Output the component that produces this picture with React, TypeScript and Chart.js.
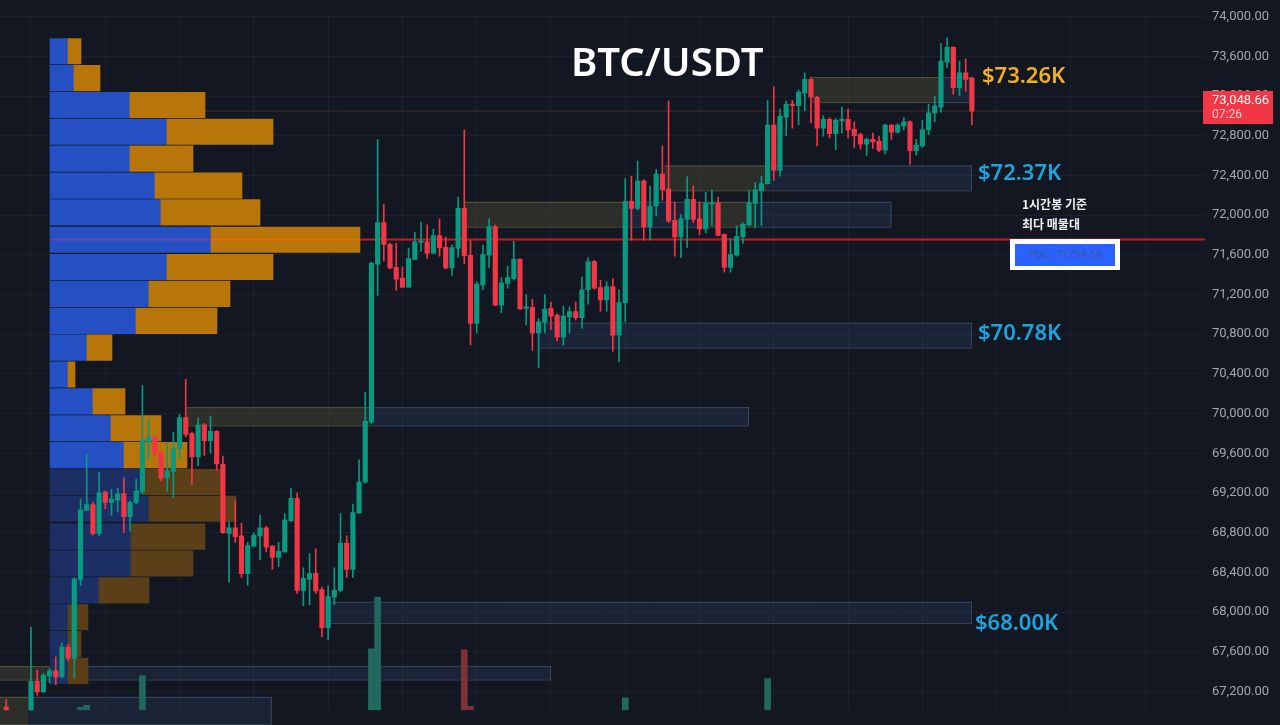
import { useEffect, useRef } from 'react'
import { Chart, registerables } from 'chart.js'

Chart.register(...registerables)

// candles, first one is bar -4 (only that one reaches into view at the left edge)
const firstBar = -4
const opens = [
  67043, 66880, 66880, 66880,
  66900, 67301, 67195, 67356, 67407, 67349, 67646, 67536, 68326, 69025,
  69083, 68790, 69209, 69106, 69128, 69193, 68961, 69106, 69212, 69718,
  69766, 69605, 69354, 69418, 69647, 69959, 69798, 69563, 69888, 69727,
  69821, 69492, 68793, 68848, 68767, 68387, 68664, 68767, 68848, 68664,
  68551, 68606, 68922, 69147, 68219, 68332, 68390, 68226, 67842, 68149,
  68219, 68696, 68429, 68999, 69309, 69917, 71505, 71924, 71705, 71473,
  71367, 71273, 71554, 71725, 71731, 71618, 71795, 71676, 71467, 71667,
  72069, 71596, 70909, 71296, 71596, 71886, 71093, 71312, 71360, 71554,
  71061, 71070, 70813, 70919, 71061, 70990, 70771, 70974, 71029, 70967,
  71248, 71531, 71270, 71145, 71280, 70790, 71119, 72140, 72069, 72343,
  71882, 72092, 72415, 72263, 71948, 71780, 71957, 72160, 71964, 71861,
  72112, 72125, 71803, 71474, 71596, 71780, 71902, 72118, 72247, 72318,
  72908, 72450, 72988, 73117, 73104, 73230, 73369, 73188, 72876, 72966,
  72821, 72950, 72966, 72866, 72811, 72714, 72763, 72743, 72656, 72908,
  72837, 72898, 72940, 72650, 72698, 72859, 73030, 73091, 73542, 73691,
  73285, 73433, 73381,
]
const closes = [
  66900, 66900, 66900, 66900,
  67301, 67195, 67366, 67407, 67343, 67646, 67536, 68332, 69031, 69083,
  68790, 69202, 69106, 69138, 69193, 68961, 69106, 69218, 69727, 69766,
  69598, 69347, 69421, 69647, 69959, 69789, 69563, 69885, 69727, 69824,
  69492, 68799, 68848, 68761, 68387, 68671, 68774, 68848, 68654, 68551,
  68613, 68928, 69147, 68219, 68339, 68387, 68213, 67842, 68155, 68219,
  68696, 68429, 69002, 69309, 69921, 71515, 71924, 71705, 71467, 71354,
  71273, 71563, 71731, 71737, 71618, 71795, 71673, 71467, 71673, 72069,
  71592, 70909, 71306, 71602, 71886, 71093, 71319, 71370, 71554, 71054,
  71070, 70813, 70925, 71054, 70983, 70771, 70983, 71029, 70967, 71248,
  71531, 71264, 71145, 71280, 70790, 71119, 72140, 72069, 72343, 71882,
  72092, 72414, 72254, 71941, 71780, 71964, 72160, 71957, 71861, 72118,
  72125, 71796, 71474, 71603, 71786, 71909, 72125, 72254, 72318, 72908,
  72450, 72995, 73117, 73104, 73240, 73369, 73188, 72876, 72966, 72821,
  72956, 72962, 72859, 72801, 72714, 72763, 72737, 72656, 72908, 72837,
  72908, 72940, 72650, 72705, 72859, 73030, 73101, 73552, 73691, 73285,
  73433, 73369, 73048.66,
]
const highs = [
  67120, 66920, 66920, 66920,
  67849, 67414, 67382, 67430, 67549, 67688, 67672, 68348, 69138, 69589,
  69106, 69405, 69218, 69234, 69250, 69354, 69122, 69341, 70282, 69943,
  69782, 69621, 69702, 69814, 69992, 70346, 69814, 69959, 69901, 69975,
  69830, 69573, 68912, 69122, 68896, 68703, 68799, 68977, 68864, 68671,
  68703, 68993, 69250, 69202, 68445, 68590, 68638, 68252, 68268, 68445,
  68993, 68767, 69089, 69534, 70217, 71530, 72762, 72111, 71715, 71715,
  71480, 71667, 71828, 71931, 71902, 71860, 71963, 71779, 71699, 72182,
  72859, 71747, 71328, 71699, 71963, 71899, 71370, 71483, 71737, 71563,
  71199, 71151, 70958, 71199, 71125, 71006, 71080, 71077, 71125, 71377,
  71570, 71544, 71344, 71328, 71360, 71248, 72369, 72391, 72546, 72359,
  72295, 72462, 72698, 73149, 72134, 72006, 72386, 72296, 72134, 72231,
  72254, 72183, 71812, 71764, 71893, 71925, 72247, 72328, 72392, 73156,
  73294, 73069, 73149, 73156, 73262, 73433, 73391, 73198, 73004, 72982,
  72972, 73091, 73069, 72940, 72827, 72779, 72827, 72795, 72914, 72914,
  72924, 72982, 72950, 72763, 72956, 73117, 73198, 73729, 73787, 73697,
  73552, 73575, 73391,
]
const lows = [
  66800, 66850, 66850, 66850,
  66850, 67163, 67188, 67285, 67269, 67333, 67511, 67333, 68268, 69025,
  68774, 68767, 69041, 68977, 69009, 68799, 68816, 69089, 69193, 69540,
  69573, 69321, 69218, 69154, 69540, 69766, 69283, 69476, 69579, 69605,
  69428, 68793, 68300, 68703, 68348, 68268, 68654, 68526, 68606, 68429,
  68461, 68600, 68912, 68187, 68065, 68074, 68187, 67752, 67720, 68074,
  68203, 68348, 68348, 68993, 69299, 69900, 71190, 71538, 71457, 71241,
  71273, 71273, 71554, 71634, 71563, 71618, 71586, 71457, 71393, 71576,
  71512, 70693, 70813, 71248, 71473, 71087, 71016, 71264, 71344, 71048,
  70893, 70636, 70465, 70813, 70845, 70732, 70690, 70813, 70942, 70861,
  71103, 71254, 71032, 71029, 70629, 70523, 70925, 71747, 72053, 71747,
  71747, 71989, 72151, 71925, 71587, 71571, 71674, 71925, 71803, 71822,
  71893, 71790, 71426, 71426, 71587, 71716, 71893, 71877, 71893, 72312,
  72350, 72392, 72801, 72876, 72908, 73053, 72930, 72698, 72795, 72779,
  72660, 72827, 72779, 72682, 72666, 72602, 72673, 72640, 72618, 72763,
  72827, 72859, 72511, 72608, 72682, 72811, 72940, 73037, 73488, 73220,
  73207, 73246, 72908,
]

// volume pane, only the bars tall enough to show above the bottom edge
const volumeBars = [8, 9, 18, 55, 56, 70, 71, 96, 119]
const volumeValues = [3, 5, 36, 64, 118, 63, 4, 13, 33]

// volume profile rows (price of row centre, buy and sell volume)
const profilePrices = [
  73652, 73381, 73110, 72840, 72569, 72298, 72028, 71752, 71477, 71206, 70935, 70665,
  70394, 70123, 69852, 69582, 69311, 69041, 68760, 68489, 68219, 67948, 67677, 67407,
]
const profileBuy = [18, 24, 80, 117, 80, 105, 111, 161, 117, 99, 86, 37, 18, 43, 61, 74, 93, 99, 81, 81, 49, 18, 18, 18]
const profileTotal = [31, 50, 155, 223, 143, 192, 210, 310, 223, 180, 167, 62, 25, 75, 111, 137, 172, 186, 155, 143, 99, 38, 31, 38]
const dimFromRow = 16

// supply / demand boxes
const zoneKind = ['y', 'b', 'y', 'b', 'y', 'b', 'y', 'b', 'b', 'y', 'b', 'b', 'y', 'b', 'y', 'b']
const zoneStart = [126.2, 146.9, 102.3, 118.9, 70.1, 96, 108, 117, 81.9, 25.2, 54.8, 48.3, -5.1, 3, -5.1, -0.5]
const zoneEnd = [146.9, 152, 118.9, 152, 96, 108, 117, 139, 152, 54.8, 116, 152, 3, 84, -0.5, 38.9]
const zoneTop = [73391, 73391, 72501, 72501, 72134, 72134, 72134, 72134, 70916, 70065, 70065, 68103, 67455, 67455, 67146, 67146]
const zoneBottom = [73139, 73139, 72250, 72250, 71883, 71883, 71883, 71883, 70665, 69881, 69881, 67890, 67320, 67320, 66870, 66870]

const priceTicks = [74000, 73600, 73200, 72800, 72400, 72000, 71600, 71200, 70800, 70400, 70000, 69600, 69200, 68800, 68400, 68000, 67600, 67200]
const gridBars = [0, 12, 24, 36, 48, 60, 72, 84, 96, 108, 120, 132, 144, 156, 168, 180]

const lastPrice = 73048.66
const pocPrice = 71754.58
const pocBreaks = [0, 161, 310, 1155]
const pocColors = ['#6b48a8', '#f06a08', '#c81a1a']

const UP = '#089981'
const DOWN = '#f23645'
const BG = '#131722'

const priceLabels = [
  { text: '$73.26K', x: 982, y: 77, color: '#f5b01e' },
  { text: '$72.37K', x: 978, y: 174, color: '#1aa5e0' },
  { text: '$70.78K', x: 978, y: 334, color: '#1aa5e0' },
  { text: '$68.00K', x: 975, y: 624, color: '#1aa5e0' },
]

const overlayPlugin = {
  id: 'overlay',
  beforeDatasetsDraw(chart: any) {
    const { ctx, scales } = chart
    const { x, y } = scales
    ctx.save()
    zoneKind.forEach((kind, k) => {
      const left = x.getPixelForValue(zoneStart[k])
      const right = x.getPixelForValue(zoneEnd[k])
      const top = y.getPixelForValue(zoneTop[k])
      const bottom = y.getPixelForValue(zoneBottom[k])
      ctx.fillStyle = kind === 'y' ? 'rgba(88, 84, 52, 0.38)' : 'rgba(48, 72, 108, 0.28)'
      ctx.fillRect(left, top, right - left, bottom - top)
      ctx.strokeStyle = kind === 'y' ? 'rgba(120, 112, 72, 0.6)' : 'rgba(90, 110, 140, 0.5)'
      ctx.lineWidth = 1
      ctx.beginPath()
      ctx.moveTo(left, top + 0.5)
      ctx.lineTo(right, top + 0.5)
      ctx.moveTo(left, bottom + 0.5)
      ctx.lineTo(right, bottom + 0.5)
      if (kind === 'b') {
        ctx.moveTo(right - 0.5, top)
        ctx.lineTo(right - 0.5, bottom)
      }
      ctx.stroke()
    })
    ctx.restore()
  },
  afterDraw(chart: any) {
    const { ctx } = chart
    ctx.save()
    ctx.textBaseline = 'middle'
    ctx.textAlign = 'left'

    ctx.fillStyle = '#ffffff'
    ctx.font = '600 40px "Noto Sans"'
    ctx.fillText('BTC/USDT', 571, 65)

    ctx.font = '600 22px "Noto Sans"'
    priceLabels.forEach(l => {
      ctx.fillStyle = l.color
      ctx.fillText(l.text, l.x, l.y)
    })

    ctx.fillStyle = '#f0f0f0'
    ctx.font = '700 12px "Noto Sans CJK KR"'
    ctx.fillText('1시간봉 기준', 1022, 204)
    ctx.fillText('최다 매물대', 1022, 224)

    // POC tag
    ctx.fillStyle = '#ffffff'
    ctx.fillRect(1010, 239, 110, 31)
    ctx.fillStyle = '#2962ff'
    ctx.fillRect(1015, 244, 100, 22)
    ctx.fillStyle = '#3f5599'
    ctx.font = '11px Roboto'
    ctx.textAlign = 'center'
    ctx.fillText('POC: ' + pocPrice, 1065, 255.5)

    // last price tag
    ctx.fillStyle = DOWN
    ctx.fillRect(1203, 91, 70, 33)
    ctx.textAlign = 'left'
    ctx.fillStyle = '#ffffff'
    ctx.font = '13px Roboto'
    ctx.fillText(lastPrice.toLocaleString('en-US'), 1212, 100.5)
    ctx.fillStyle = '#fbd0d4'
    ctx.font = '12px Roboto'
    ctx.fillText('07:26', 1212, 115)
    ctx.restore()
  },
}

export default function App() {
  const chartRef = useRef<HTMLCanvasElement>(null)

  useEffect(() => {
    if (!chartRef.current) return
    const bars = opens.map((_, k) => k + firstBar)
    const candleColors = opens.map((o, k) => (closes[k] >= o ? UP : DOWN))

    const chart = new Chart(chartRef.current, {
      type: 'bar',
      data: {
        datasets: [
          {
            type: 'line',
            data: [{ x: 0, y: lastPrice }, { x: 1155, y: lastPrice }],
            xAxisID: 'xp',
            yAxisID: 'y',
            borderColor: '#4a2b2c',
            borderWidth: 1,
            pointRadius: 0,
            order: 6,
          },
          {
            label: 'volume',
            data: volumeBars.map((b, k) => ({ x: b, y: volumeValues[k] })),
            xAxisID: 'x',
            yAxisID: 'yv',
            backgroundColor: volumeBars.map(b => (closes[b - firstBar] >= opens[b - firstBar] ? '#22685f' : '#7e3138')),
            barThickness: 6,
            grouped: false,
            order: 5,
          },
          {
            label: 'sell',
            indexAxis: 'y',
            data: profilePrices.map((p, k) => ({ y: p, x: [profileBuy[k], profileTotal[k]] })),
            xAxisID: 'xp',
            yAxisID: 'y',
            backgroundColor: profilePrices.map((_, k) => (k >= dimFromRow ? '#5a3f18' : '#b8750a')),
            barThickness: 25.5,
            grouped: false,
            order: 4,
          },
          {
            label: 'buy',
            indexAxis: 'y',
            data: profilePrices.map((p, k) => ({ y: p, x: [0, profileBuy[k]] })),
            xAxisID: 'xp',
            yAxisID: 'y',
            backgroundColor: profilePrices.map((_, k) => (k >= dimFromRow ? '#1b2f64' : '#2450c4')),
            barThickness: 25.5,
            grouped: false,
            order: 4,
          },
          {
            type: 'line',
            data: pocBreaks.map(x => ({ x, y: pocPrice })),
            xAxisID: 'xp',
            yAxisID: 'y',
            borderColor: pocColors[2],
            borderWidth: 2,
            pointRadius: 0,
            segment: { borderColor: (c: any) => pocColors[c.p0DataIndex] },
            order: 3,
          },
          {
            label: 'wicks',
            data: bars.map((b, k) => ({ x: b, y: [lows[k], highs[k]] })),
            xAxisID: 'x',
            yAxisID: 'y',
            backgroundColor: candleColors,
            barThickness: 1,
            grouped: false,
            order: 2,
          },
          {
            label: 'bodies',
            data: bars.map((b, k) => ({ x: b, y: [opens[k], closes[k]] })),
            xAxisID: 'x',
            yAxisID: 'y',
            backgroundColor: candleColors,
            barThickness: 4.5,
            minBarLength: 1.5,
            grouped: false,
            order: 1,
          },
        ] as any,
      },
      options: {
        responsive: true,
        maintainAspectRatio: false,
        animation: false,
        layout: { padding: 0 },
        plugins: { legend: { display: false }, tooltip: { enabled: false } },
        scales: {
          x: {
            type: 'linear',
            axis: 'x',
            position: 'bottom',
            offset: false,
            min: -5.008,
            max: 189.66,
            afterBuildTicks: (scale: any) => {
              scale.ticks = gridBars.map(value => ({ value }))
            },
            ticks: { display: false, autoSkip: false },
            grid: { color: '#1c202c', drawTicks: false, offset: false },
            border: { display: false },
          },
          xp: {
            type: 'linear',
            axis: 'x',
            display: false,
            offset: false,
            min: -50,
            max: 1155,
          },
          y: {
            type: 'linear',
            axis: 'y',
            position: 'right',
            offset: false,
            min: 67011,
            max: 74019,
            afterFit: (scale: any) => {
              scale.width = 75
            },
            afterBuildTicks: (scale: any) => {
              scale.ticks = priceTicks.map(value => ({ value }))
            },
            ticks: {
              autoSkip: false,
              padding: 7,
              color: '#a3a6af',
              font: { family: 'Roboto', size: 13 },
              callback: (v: any) => Number(v).toLocaleString('en-US', { minimumFractionDigits: 2 }),
            },
            grid: { color: '#1c202c', drawTicks: false, offset: false },
            border: { display: false },
          },
          yv: {
            type: 'linear',
            axis: 'y',
            display: false,
            offset: false,
            min: 0,
            max: 725,
          },
        } as any,
      },
      plugins: [overlayPlugin],
    })

    return () => chart.destroy()
  }, [])

  return (
    <div style={{ position: 'fixed', left: 0, top: 0, width: 1280, height: 725, background: BG }}>
      <canvas ref={chartRef} />
    </div>
  )
}
